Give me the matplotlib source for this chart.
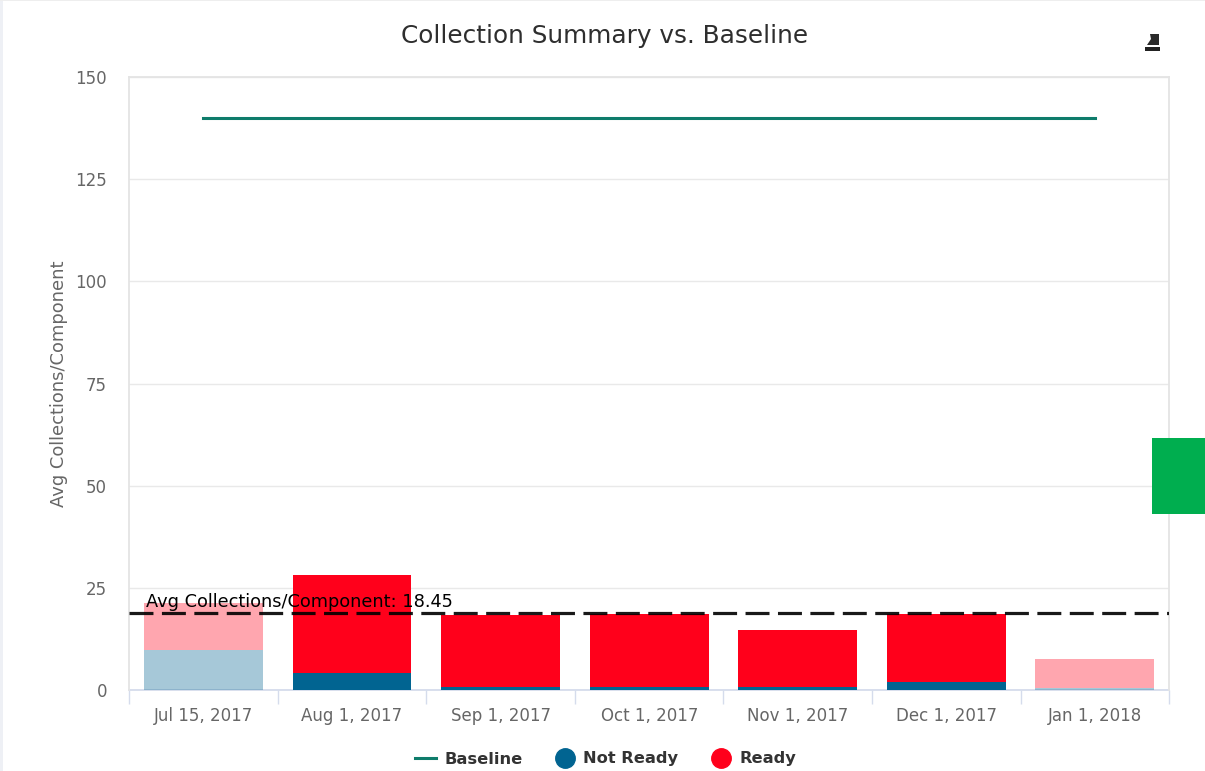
import matplotlib
matplotlib.use("Agg")
from matplotlib import pyplot as plt
from matplotlib.lines import Line2D
from matplotlib.patches import Rectangle, Polygon

categories = ["Jul 15, 2017", "Aug 1, 2017", "Sep 1, 2017", "Oct 1, 2017", "Nov 1, 2017", "Dec 1, 2017", "Jan 1, 2018"]
not_ready = [9.8, 4.1, 0.8, 0.8, 0.8, 2.0, 0.4]
ready = [11.5, 24.1, 17.55, 17.9, 13.9, 16.7, 7.1]
baseline = [140, 140, 140, 140, 140, 140, 140]
faded = [True, False, False, False, False, False, True]
avg_label = "18.45"
avg_line = 18.8  # the line sits a bit above the labelled value in the picture
y_ticks = [0, 25, 50, 75, 100, 125, 150]

W, H = 1205, 771
plt.rcParams["font.family"] = ["DejaVu Sans"]

fig = plt.figure(figsize=(W / 100, H / 100), dpi=100)
ax = fig.add_axes([129.2 / W, 1 - 690 / H, 1040 / W, 613 / H])

# bars
for i in range(len(categories)):
    a = 0.35 if faded[i] else 1
    ax.bar(i, not_ready[i], width=0.8, color="#016491", alpha=a, linewidth=0, zorder=2)
    ax.bar(i, ready[i], width=0.8, bottom=not_ready[i], color="#ff001b", alpha=a, linewidth=0, zorder=2)

ax.plot(range(len(categories)), baseline, color="#0e7c6b", lw=2.2, zorder=3)
ax.axhline(avg_line, color="black", lw=2.3, dashes=(7.5, 2.65), zorder=4, alpha=0.9)
ax.text(-0.39, 21.5, "Avg Collections/Component: " + avg_label, fontsize=12.75, color="black", va="center", zorder=5)

ax.set_xlim(-0.5, 6.5)
ax.set_ylim(0, 150)
ax.set_yticks(y_ticks)
ax.set_xticks([i - 0.5 for i in range(len(categories) + 1)])
ax.set_xticklabels([])
ax.set_xticks(range(len(categories)), labels=categories, minor=True)
ax.tick_params(axis="x", which="major", length=10, width=1, color="#d5dcec")
ax.tick_params(axis="x", which="minor", length=0, pad=12, labelsize=12, labelcolor="#666666")
ax.tick_params(axis="y", length=0, pad=16, labelsize=12, labelcolor="#666666")
ax.grid(axis="y", color="#e9e9e9", lw=1, zorder=0)
ax.set_axisbelow(True)
for s in ["top", "right", "left"]:
    ax.spines[s].set_color("#e4e4e4")
    ax.spines[s].set_linewidth(1.3)
ax.spines["bottom"].set_color("#d5dcec")
ax.spines["bottom"].set_linewidth(1.3)
ax.spines["bottom"].set_zorder(1)
ax.set_ylabel("Avg Collections/Component", fontsize=12.9, color="#666666", labelpad=5)

fig.text(605 / W, 1 - 36 / H, "Collection Summary vs. Baseline", fontsize=17.85, color="#2e2e2e", ha="center", va="center")

handles = [
    Line2D([], [], color="#0e7c6b", lw=2.2),
    Line2D([], [], color="#016491", marker="o", ms=14, ls=""),
    Line2D([], [], color="#ff001b", marker="o", ms=14, ls=""),
]
leg = fig.legend(handles, ["Baseline", "Not Ready", "Ready"], loc="center", bbox_to_anchor=(605.5 / W, 1 - 759 / H), ncol=3,
                 frameon=False, handlelength=1.3, handletextpad=0.5, columnspacing=1.95,
                 prop={"weight": "bold", "size": 11.7})
for t in leg.get_texts():
    t.set_color("#333333")

# page bits around the chart
fig.add_artist(Rectangle((1152 / W, 1 - 514 / H), 53 / W, 76 / H, transform=fig.transFigure, color="#00ae4f", lw=0))
fig.add_artist(Rectangle((0, 0), 3 / W, 1, transform=fig.transFigure, color="#eef0f5", lw=0))
fig.add_artist(Rectangle((0, 1 - 1 / H), 1, 1 / H, transform=fig.transFigure, color="#eeeeee", lw=0))

# export icon
fig.add_artist(Rectangle((1145 / W, 1 - 51 / H), 15 / W, 4 / H, transform=fig.transFigure, color="#222222", lw=0))
fig.add_artist(Polygon([(1147 / W, 1 - 45 / H), (1151 / W, 1 - 39 / H), (1150 / W, 1 - 34 / H), (1159 / W, 1 - 34 / H), (1159 / W, 1 - 45 / H)],
                       transform=fig.transFigure, color="#2a2a2a", lw=0))

fig.savefig("out.png", dpi=100)
